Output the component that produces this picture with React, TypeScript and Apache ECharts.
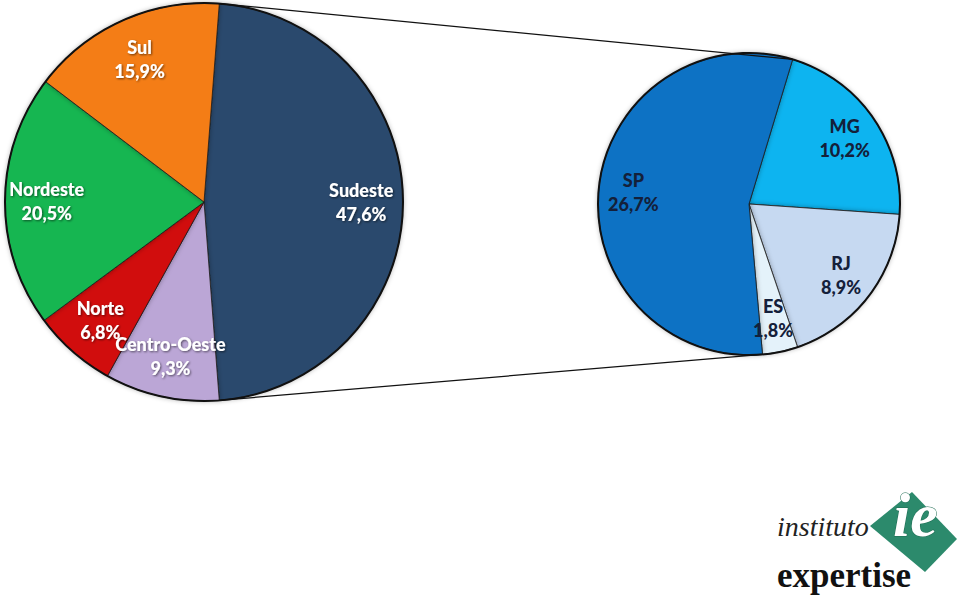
import React, { useEffect, useRef } from "react";
import * as echarts from "echarts";

const regionNames = ["Sudeste", "Centro-Oeste", "Norte", "Nordeste", "Sul"];
const regionValues = [47.6, 9.3, 6.8, 20.5, 15.9];
const regionColors = ["#2B4A6D", "#BBA6D6", "#D10A0A", "#12B651", "#F47D18"];

const stateNames = ["MG", "RJ", "ES", "SP"];
const stateValues = [10.2, 8.9, 1.8, 26.7];
const stateColors = ["#0DB4F0", "#C6D9F1", "#E4F2FA", "#0A72C4"];

const L = { cx: 204, cy: 202, r: 199 };
const R = { cx: 749, cy: 204, r: 151 };

const fmt = (name: string, v: number) => `${name}\n${v.toFixed(1).replace(".", ",")}%`;

export default function App() {
  const ref = useRef<HTMLDivElement>(null);
  useEffect(() => {
    if (!ref.current) return;
    const chart = echarts.init(ref.current, null, { renderer: "svg" });
    const totalL = regionValues.reduce((a, b) => a + b, 0);
    const totalR = stateValues.reduce((a, b) => a + b, 0);
    const startL = (regionValues[0] / totalL) * 180;
    const startR = 73.2;
    const rad = (d: number) => (d * Math.PI) / 180;
    const pt = (c: { cx: number; cy: number; r: number }, a: number) => [
      c.cx + c.r * Math.cos(rad(a)),
      c.cy - c.r * Math.sin(rad(a)),
    ];
    const lTop = pt(L, startL);
    const lBot = pt(L, startL - (regionValues[0] / totalL) * 360);
    const spStart = startR - ((totalR - stateValues[3]) / totalR) * 360;
    const rTop = pt(R, startR);
    const rBot = pt(R, spStart);

    const baseItem = {
      borderColor: "rgba(30,30,30,0.8)",
      borderWidth: 1,
      shadowBlur: 5,
      shadowColor: "rgba(0,0,0,0.35)",
    };
    const font = "Lato, 'Open Sans', sans-serif";

    const rim = (c: { cx: number; cy: number; r: number }) => ({
      type: "circle",
      shape: { cx: c.cx, cy: c.cy, r: c.r },
      style: { fill: "none", stroke: "#111", lineWidth: 2 },
      silent: true,
      z: 9,
    });

    const leftLabel = {
      show: true,
      position: "inside",
      formatter: (p: any) => fmt(p.name, p.value),
      color: "#ffffff",
      fontFamily: font,
      fontWeight: 900,
      fontSize: 18,
      lineHeight: 24,
      overflow: "none",
      textShadowColor: "rgba(0,0,0,0.55)",
      textShadowBlur: 2,
      textShadowOffsetX: 1,
      textShadowOffsetY: 1,
    };

    const labelSeries = (only: string | null) => ({
      type: "pie",
      center: [L.cx, L.cy],
      radius: [L.r * 0.55, L.r],
      startAngle: startL,
      clockwise: true,
      silent: true,
      avoidLabelOverlap: false,
      labelLayout: { hideOverlap: false },
      itemStyle: { color: "transparent", borderWidth: 0 },
      labelLine: { show: false },
      label: leftLabel,
      data: regionNames.map((n, i) => ({
        name: n,
        value: regionValues[i],
        label: {
          show: only === null ? n !== "Centro-Oeste" : n === only,
        },
      })),
    });

    chart.setOption({
      animation: false,
      backgroundColor: "#ffffff",
      series: [
        {
          type: "pie",
          center: [L.cx, L.cy],
          radius: [0, L.r],
          startAngle: startL,
          clockwise: true,
          silent: true,
          avoidLabelOverlap: false,
          label: { show: false },
          labelLine: { show: false },
          itemStyle: baseItem,
          data: regionNames.map((n, i) => ({
            name: n,
            value: regionValues[i],
            itemStyle: { color: regionColors[i] },
          })),
        },
        labelSeries(null),
        labelSeries("Centro-Oeste"),
        {
          type: "pie",
          center: [R.cx, R.cy],
          radius: [0, R.r],
          startAngle: startR,
          clockwise: true,
          silent: true,
          avoidLabelOverlap: false,
          label: { show: false },
          labelLine: { show: false },
          itemStyle: baseItem,
          data: stateNames.map((n, i) => ({
            name: n,
            value: stateValues[i],
            itemStyle: { color: stateColors[i] },
          })),
        },
        {
          type: "pie",
          center: [R.cx, R.cy],
          radius: [R.r * 0.5, R.r],
          startAngle: startR,
          clockwise: true,
          silent: true,
          avoidLabelOverlap: false,
          labelLayout: { hideOverlap: false },
          itemStyle: { color: "transparent", borderWidth: 0 },
          labelLine: { show: false },
          label: {
            show: true,
            position: "inside",
            formatter: (p: any) => fmt(p.name, p.value),
            color: "#14203A",
            fontFamily: font,
            fontWeight: 900,
            fontSize: 18,
            lineHeight: 24,
          },
          data: stateNames.map((n, i) => ({ name: n, value: stateValues[i] })),
        },
      ],
      graphic: [
        rim(L),
        rim(R),
        {
          type: "line",
          shape: { x1: lTop[0], y1: lTop[1], x2: rTop[0], y2: rTop[1] },
          style: { stroke: "#111", lineWidth: 1.3 },
          z: 10,
        },
        {
          type: "line",
          shape: { x1: lBot[0], y1: lBot[1], x2: rBot[0], y2: rBot[1] },
          style: { stroke: "#111", lineWidth: 1.3 },
          z: 10,
        },
        {
          type: "polygon",
          shape: { points: [[870, 526], [912, 492], [957, 539], [925, 572]] },
          style: { fill: "#2C8A6C" },
          z: 10,
        },
        {
          type: "text",
          x: 893,
          y: 484,
          style: {
            text: "ie",
            fill: "#ffffff",
            stroke: "#1E6B52",
            lineWidth: 1,
            font: "italic bold 62px 'Liberation Serif', serif",
          },
          z: 11,
        },
        {
          type: "text",
          x: 777,
          y: 512,
          style: {
            text: "instituto",
            fill: "#222",
            font: "italic 28px 'Liberation Serif', serif",
          },
          z: 12,
        },
        {
          type: "text",
          x: 777,
          y: 558,
          style: {
            text: "expertise",
            fill: "#111",
            font: "bold 35px 'Liberation Serif', serif",
          },
          z: 12,
        },
      ],
    });
    return () => chart.dispose();
  }, []);
  return (
    <div
      ref={ref}
      style={{ position: "fixed", left: 0, top: 0, width: 960, height: 597 }}
    />
  );
}
